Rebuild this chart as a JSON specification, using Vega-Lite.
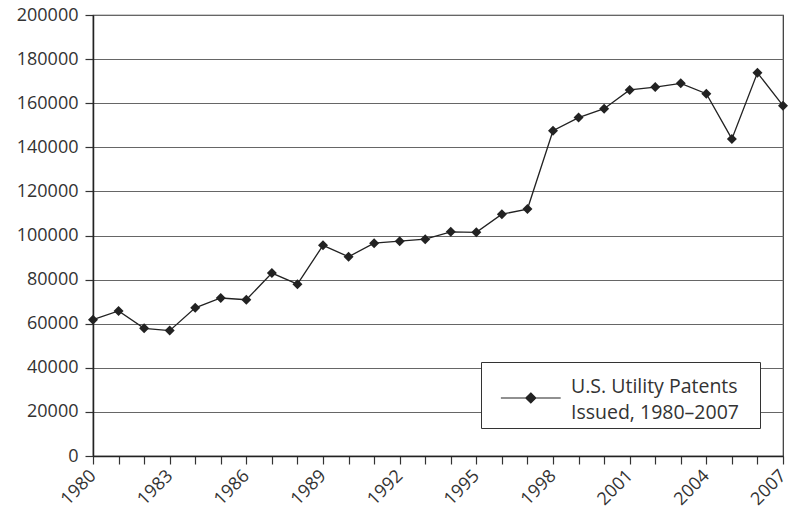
{
  "$schema": "https://vega.github.io/schema/vega-lite/v6.json",
  "width": 690,
  "height": 441,
  "autosize": {"type": "none"},
  "padding": {"left": 93, "top": 15, "right": 7, "bottom": 57},
  "background": "white",
  "config": {
    "font": "Open Sans",
    "view": {"stroke": "#333", "strokeWidth": 1.2},
    "axis": {"labelColor": "#333", "labelFont": "Open Sans", "labelFontSize": 18, "tickColor": "#333", "domainColor": "#222", "domainWidth": 1.5, "tickSize": 8, "tickWidth": 1.2, "title": null}
  },
  "data": {
    "values": [
      {"year": 1980, "patents": 61819, "series": "s"},
      {"year": 1981, "patents": 65771, "series": "s"},
      {"year": 1982, "patents": 57888, "series": "s"},
      {"year": 1983, "patents": 56860, "series": "s"},
      {"year": 1984, "patents": 67200, "series": "s"},
      {"year": 1985, "patents": 71661, "series": "s"},
      {"year": 1986, "patents": 70860, "series": "s"},
      {"year": 1987, "patents": 82952, "series": "s"},
      {"year": 1988, "patents": 77924, "series": "s"},
      {"year": 1989, "patents": 95537, "series": "s"},
      {"year": 1990, "patents": 90365, "series": "s"},
      {"year": 1991, "patents": 96511, "series": "s"},
      {"year": 1992, "patents": 97444, "series": "s"},
      {"year": 1993, "patents": 98342, "series": "s"},
      {"year": 1994, "patents": 101676, "series": "s"},
      {"year": 1995, "patents": 101419, "series": "s"},
      {"year": 1996, "patents": 109645, "series": "s"},
      {"year": 1997, "patents": 111984, "series": "s"},
      {"year": 1998, "patents": 147517, "series": "s"},
      {"year": 1999, "patents": 153485, "series": "s"},
      {"year": 2000, "patents": 157494, "series": "s"},
      {"year": 2001, "patents": 166035, "series": "s"},
      {"year": 2002, "patents": 167331, "series": "s"},
      {"year": 2003, "patents": 169023, "series": "s"},
      {"year": 2004, "patents": 164290, "series": "s"},
      {"year": 2005, "patents": 143806, "series": "s"},
      {"year": 2006, "patents": 173772, "series": "s"},
      {"year": 2007, "patents": 158900, "series": "s"}
    ]
  },
  "encoding": {
    "x": {
      "field": "year", "type": "quantitative",
      "scale": {"domain": [1980, 2007], "nice": false, "zero": false},
      "axis": {
        "values": [1980,1981,1982,1983,1984,1985,1986,1987,1988,1989,1990,1991,1992,1993,1994,1995,1996,1997,1998,1999,2000,2001,2002,2003,2004,2005,2006,2007],
        "format": "d",
        "labelExpr": "(datum.value - 1980) % 3 == 0 ? datum.label : ''",
        "labelAngle": -45,
        "labelAlign": "right",
        "labelBaseline": "middle",
        "labelPadding": 9,
        "labelDx": 5,
        "labelDy": 6,
        "labelOverlap": false,
        "labelFlush": false,
        "grid": false
      }
    },
    "y": {
      "field": "patents", "type": "quantitative",
      "scale": {"domain": [0, 200000], "nice": false},
      "axis": {
        "values": [0,20000,40000,60000,80000,100000,120000,140000,160000,180000,200000],
        "format": "d",
        "grid": true, "gridColor": "#666", "gridWidth": 1.2,
        "labelPadding": 7
      }
    }
  },
  "layer": [
    {
      "mark": {"type": "line", "color": "#222", "strokeWidth": 1.3},
      "encoding": {
        "color": {
          "field": "series", "type": "nominal",
          "scale": {"range": ["#222"]},
          "legend": {
            "title": "\u00a0",
            "titleOrient": "right",
            "titlePadding": 16,
            "titleFontSize": 11,
            "orient": "none",
            "legendX": 388,
            "legendY": 347,
            "strokeColor": "#333",
            "fillColor": "white",
            "padding": 5,
            "symbolOffset": 7,
            "symbolType": "M-0.7,0.304L1.9,0.304M0.6,0.087L0.817,0.304L0.6,0.521L0.383,0.304Z",
            "symbolSize": 2116,
            "symbolFillColor": "#222",
            "symbolStrokeColor": "#222",
            "symbolStrokeWidth": 1.2,
            "labelExpr": "['U.S. Utility Patents', 'Issued, 1980–2007']",
            "labelFont": "Open Sans",
            "labelFontSize": 19.5,
            "labelColor": "#333",
            "labelOffset": 30,
            "labelLimit": 400,
            "encode": {"labels": {"update": {"lineHeight": {"value": 26}, "dy": {"value": -4}}}}
          }
        }
      }
    },
    {
      "mark": {"type": "point", "shape": "diamond", "filled": true, "color": "#222", "size": 100, "opacity": 1}
    }
  ]
}
